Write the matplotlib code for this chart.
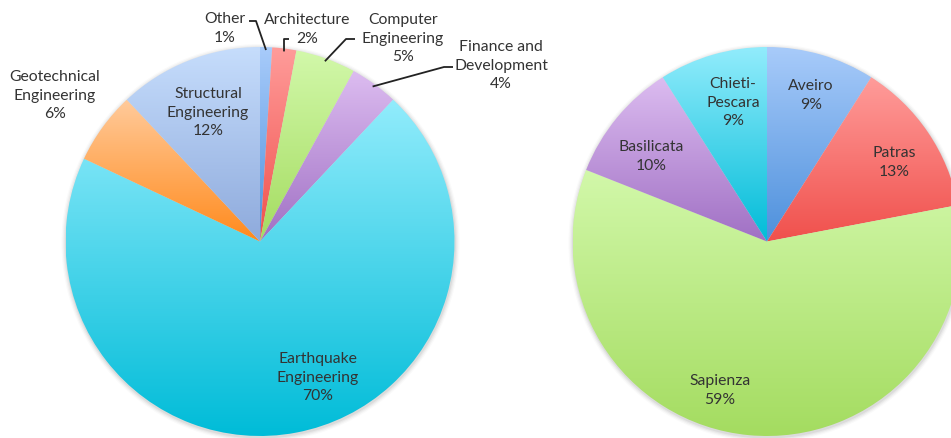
import numpy as np
import matplotlib
matplotlib.use("Agg")
import matplotlib.pyplot as plt
from matplotlib.colors import LinearSegmentedColormap

plt.rcParams['font.family'] = ['Lato', 'DejaVu Sans']

# ---------------- data ----------------
fields = ["Other", "Architecture", "Computer\nEngineering", "Finance and\nDevelopment",
          "Earthquake\nEngineering", "Geotechnical\nEngineering", "Structural\nEngineering"]
field_pct = [1, 2, 5, 4, 70, 6, 12]

sites = ["Aveiro", "Patras", "Sapienza", "Basilicata", "Chieti-\nPescara"]
site_pct = [9, 13, 59, 10, 9]

# ---------------- style ----------------
GRAD = {
    "blue":   ("#a8cbfa", "#4d90dc"),
    "red":    ("#ff9c9a", "#f0504c"),
    "green":  ("#d2f8aa", "#a4dc60"),
    "purple": ("#dcbcf0", "#a070c4"),
    "cyan":   ("#92ecfc", "#00bcd8"),
    "orange": ("#ffca9a", "#ff8a1c"),
    "lblue":  ("#c6ddfc", "#8eaadc"),
}
field_cols = ["blue", "red", "green", "purple", "cyan", "orange", "lblue"]
site_cols = ["blue", "red", "green", "purple", "cyan"]

W, H = 951, 439
fig = plt.figure(figsize=(W / 100, H / 100), dpi=100)
ax = fig.add_axes([0, 0, 1, 1])
TXT = "#333333"
FS = 11.3
LS = 1.43

R = 194.5
left_c = (260, H - 242.5)
right_c = (767, H - 242.5)


def shadow(center):
    for i, a in enumerate([0.05, 0.04, 0.03, 0.02]):
        c = plt.Circle((center[0] + 0.5, center[1] - 1.5), R + 1 + i * 1.2,
                       color="#000000", alpha=a, lw=0, zorder=0)
        ax.add_patch(c)


def grad_pie(values, cols, center):
    wedges, _ = ax.pie(values, startangle=90, counterclock=False, radius=R,
                       center=center, colors=["none"] * len(values),
                       wedgeprops=dict(linewidth=0))
    for w, c in zip(wedges, cols):
        w.set_zorder(2)
        ext = w.get_path().get_extents()
        cmap = LinearSegmentedColormap.from_list("g", [GRAD[c][1], GRAD[c][0]])
        grad = np.linspace(0, 1, 256).reshape(-1, 1)
        im = ax.imshow(grad, cmap=cmap, origin="lower", aspect="auto",
                       extent=[ext.x0, ext.x1, ext.y0, ext.y1], zorder=1,
                       interpolation="bilinear")
        im.set_clip_path(w)
    return wedges


shadow(left_c)
shadow(right_c)
lw = grad_pie(field_pct, field_cols, left_c)
rw = grad_pie(site_pct, site_cols, right_c)


def lab(name, pct):
    return f"{name}\n{pct}%"


def mid_point(w, center, frac=0.99):
    ang = np.deg2rad((w.theta1 + w.theta2) / 2)
    return center[0] + frac * R * np.cos(ang), center[1] + frac * R * np.sin(ang)


# label positions (layout: centre of first text line, pixels from top-left)
left_pos = [(225, 18), (307, 19), (403, 19), (501, 46), (318, 358), (55, 76), (208, 93)]
right_pos = [(811, 85), (894, 152), (720, 380), (651, 146), (733, 83)]
DY = 6

for name, pct, (x, y) in zip(fields, field_pct, left_pos):
    ax.text(x, H - y + DY, lab(name, pct), ha="center", va="top", fontsize=FS,
            color=TXT, linespacing=LS, zorder=5)
for name, pct, (x, y) in zip(sites, site_pct, right_pos):
    ax.text(x, H - y + DY, lab(name, pct), ha="center", va="top", fontsize=FS,
            color=TXT, linespacing=LS, zorder=5)

# leader lines: (text-side start, elbow)
leader = {0: ((249, 22), (256, 22)), 1: ((289, 40), (284, 40)),
          2: ((355, 40), (346, 40)), 3: ((453, 68), (444, 68))}
for i, (p0, p1) in leader.items():
    px, py = mid_point(lw[i], left_c, 0.985)
    ax.plot([p0[0], p1[0], px], [H - p0[1], H - p1[1], py], color="#222222",
            lw=1.3, zorder=6, solid_capstyle="butt")

ax.set_xlim(0, W)
ax.set_ylim(0, H)
ax.set_aspect("auto")
ax.axis("off")
fig.savefig("out.png", dpi=100)
